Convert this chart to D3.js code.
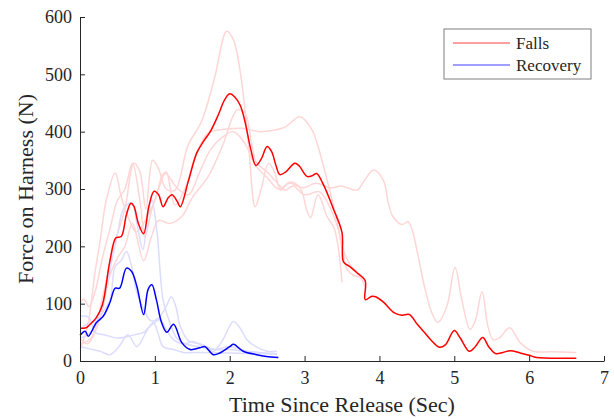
<!DOCTYPE html>
<html>
<head>
<meta charset="utf-8">
<script src="https://cdn.jsdelivr.net/npm/d3@7"></script>
<style>
  body { margin: 0; background: #fff; }
  svg text { font-family: "Liberation Serif", "Times New Roman", serif; fill: #262626; }
</style>
</head>
<body>
<svg id="chart" width="614" height="419"></svg>
<script>
// tick labels
var xTicks = [0, 1, 2, 3, 4, 5, 6, 7]
var yTicks = [0, 100, 200, 300, 400, 500, 600]

// legend
var keys = ["Falls", "Recovery"]

// mean curves, [time (s), force (N)]
var fallsMean = [[0,57],[0.08,58],[0.12,62],[0.22,76],[0.3,98],[0.4,175],[0.48,215],[0.55,217],[0.62,255],[0.68,275],[0.72,270],[0.78,240],[0.85,222],[0.92,270],[0.99,296],[1.05,290],[1.11,269],[1.18,285],[1.23,290],[1.3,278],[1.34,269],[1.45,315],[1.56,363],[1.65,383],[1.74,400],[1.85,430],[1.93,455],[2.0,466],[2.07,460],[2.14,446],[2.2,420],[2.28,370],[2.35,341],[2.42,352],[2.5,374],[2.56,365],[2.62,340],[2.67,325],[2.75,330],[2.87,345],[2.93,340],[3.03,322],[3.1,323],[3.16,327],[3.25,308],[3.38,267],[3.5,224],[3.52,173],[3.6,165],[3.7,154],[3.81,140],[3.81,107],[3.9,113],[3.95,112],[4.05,103],[4.2,84],[4.3,80],[4.4,81],[4.5,65],[4.6,50],[4.7,35],[4.8,24],[4.88,28],[5.0,53],[5.08,40],[5.2,17],[5.28,25],[5.38,41],[5.46,25],[5.55,13],[5.65,15],[5.75,18],[5.88,14],[6.0,10],[6.1,6],[6.63,5]]

var recoveryMean = [[0,45],[0.07,52],[0.11,43],[0.22,67],[0.31,78],[0.4,102],[0.47,127],[0.53,127],[0.62,162],[0.69,156],[0.76,130],[0.85,81],[0.91,125],[0.96,133],[1.02,107],[1.09,67],[1.16,50],[1.25,64],[1.36,32],[1.47,20],[1.6,23],[1.67,25],[1.78,11],[1.87,14],[2.0,25],[2.05,29],[2.18,17],[2.36,11],[2.49,8],[2.65,6]]

// individual fall trials
var fallTrial1 = [[0,30],[0.15,40],[0.3,110],[0.45,200],[0.6,265],[0.72,345],[0.8,330],[0.88,265],[0.97,350],[1.05,335],[1.15,300],[1.27,298],[1.44,375],[1.63,420],[1.8,495],[1.96,575],[2.05,560],[2.14,505],[2.25,380],[2.34,269],[2.42,300],[2.52,345],[2.6,330],[2.68,298],[2.8,312],[2.94,302],[3.03,263],[3.08,250],[3.18,290],[3.3,252],[3.4,230],[3.5,137]]
var fallTrial2 = [[0,100],[0.05,108],[0.12,95],[0.2,120],[0.3,180],[0.4,230],[0.5,280],[0.6,300],[0.7,345],[0.8,280],[0.87,217],[0.95,260],[1.05,300],[1.15,330],[1.27,272],[1.4,300],[1.55,360],[1.71,398],[1.84,403],[2.0,405],[2.16,406],[2.4,400],[2.6,403],[2.74,408],[2.94,426],[3.1,403],[3.18,374],[3.3,316],[3.41,258],[3.5,200],[3.57,159],[3.65,150],[3.75,145],[3.8,130]]
var fallTrial3 = [[0,40],[0.1,30],[0.2,50],[0.3,90],[0.4,150],[0.5,180],[0.6,200],[0.7,240],[0.85,175],[0.95,215],[1.05,245],[1.2,240],[1.36,252],[1.5,285],[1.71,321],[1.9,374],[2.1,438],[2.2,433],[2.3,374],[2.36,345],[2.5,330],[2.6,316],[2.74,298],[2.85,305],[3.0,290],[3.2,295],[3.35,265],[3.45,230],[3.5,200],[3.6,170],[3.7,155]]
var fallTrial4 = [[0,20],[0.1,60],[0.2,154],[0.27,211],[0.35,280],[0.47,328],[0.55,287],[0.64,252],[0.75,225],[0.85,240],[1.0,280],[1.13,328],[1.31,300],[1.45,290],[1.6,330],[1.75,370],[1.9,390],[2.05,400],[2.2,380],[2.35,340],[2.5,320],[2.65,300],[2.8,310],[2.98,302],[3.15,310],[3.34,302],[3.5,305],[3.7,298],[3.8,315],[3.92,333],[4.05,316],[4.12,275],[4.18,252],[4.3,238],[4.38,243],[4.43,232],[4.5,194],[4.61,125],[4.7,84],[4.78,67],[4.9,95],[5.01,163],[5.1,107],[5.21,55],[5.28,70],[5.37,121],[5.45,60],[5.52,37],[5.61,41],[5.74,58],[5.88,32],[6.05,17],[6.3,16],[6.63,15]]

// individual recovery trials
var recTrial1 = [[0,55],[0.1,65],[0.2,70],[0.3,100],[0.4,160],[0.5,220],[0.58,265],[0.69,276],[0.76,240],[0.84,194],[0.9,250],[0.96,281],[1.03,223],[1.11,107],[1.2,67],[1.29,40],[1.4,30],[1.6,25],[1.8,20],[2.0,25],[2.2,18],[2.4,15],[2.63,12]]
var recTrial2 = [[0,40],[0.1,45],[0.2,60],[0.27,78],[0.4,107],[0.47,165],[0.55,175],[0.62,191],[0.68,170],[0.76,119],[0.85,90],[0.95,70],[1.05,75],[1.15,95],[1.22,112],[1.28,95],[1.34,60],[1.45,35],[1.6,30],[1.8,20],[2.0,20],[2.3,15],[2.63,12]]
var recTrial3 = [[0,25],[0.1,22],[0.27,17],[0.4,11],[0.52,25],[0.64,46],[0.76,25],[0.88,50],[0.98,67],[1.05,45],[1.11,25],[1.25,20],[1.38,15],[1.6,15],[2.0,14],[2.3,13],[2.6,13]]
var recTrial4 = [[0,78],[0.12,76],[0.2,50],[0.35,45],[0.5,40],[0.7,45],[0.85,50],[0.93,60],[1.07,72],[1.15,55],[1.25,37],[1.4,30],[1.51,34],[1.65,25],[1.78,17],[1.9,35],[2.05,69],[2.15,55],[2.23,37],[2.35,25],[2.5,17],[2.63,17]]

var fallTrials = [fallTrial1, fallTrial2, fallTrial3, fallTrial4]
var recTrials = [recTrial1, recTrial2, recTrial3, recTrial4]

var svg = d3.select("#chart")
var plotLeft = 80, plotRight = 604, plotTop = 17, plotBottom = 361

var x = d3.scaleLinear().domain([0, 7]).range([plotLeft, plotRight])
var y = d3.scaleLinear().domain([0, 600]).range([plotBottom, plotTop])

var line = d3.line()
  .x(function(d) { return x(d[0]) })
  .y(function(d) { return y(d[1]) })
  .curve(d3.curveCatmullRom.alpha(0.5))

// faint trials first, then the means on top
svg.selectAll(".fallTrial")
  .data(fallTrials)
  .enter()
  .append("path")
  .attr("class", "fallTrial")
  .attr("d", line)
  .attr("fill", "none")
  .attr("stroke", "#ffd6d6")
  .attr("stroke-width", 1.5)

svg.selectAll(".recTrial")
  .data(recTrials)
  .enter()
  .append("path")
  .attr("class", "recTrial")
  .attr("d", line)
  .attr("fill", "none")
  .attr("stroke", "#dcdcff")
  .attr("stroke-width", 1.5)

svg.append("path")
  .datum(fallsMean)
  .attr("d", line)
  .attr("fill", "none")
  .attr("stroke", "#ff0000")
  .attr("stroke-width", 1.5)

svg.append("path")
  .datum(recoveryMean)
  .attr("d", line)
  .attr("fill", "none")
  .attr("stroke", "#0000ff")
  .attr("stroke-width", 1.5)

// axes, ticks pointing inward
svg.append("g")
  .attr("transform", "translate(0," + plotBottom + ")")
  .call(d3.axisBottom(x).tickValues(xTicks).tickFormat(d3.format("d")).tickSizeInner(-5).tickSizeOuter(0).tickPadding(10))
svg.append("g")
  .attr("transform", "translate(" + plotLeft + ",0)")
  .call(d3.axisLeft(y).tickValues(yTicks).tickFormat(d3.format("d")).tickSizeInner(-5).tickSizeOuter(0).tickPadding(8))

svg.selectAll(".domain, .tick line").attr("stroke", "#262626").attr("stroke-width", 1)
svg.selectAll(".tick text").attr("font-size", "18px").attr("font-family", "Liberation Serif").attr("fill", "#262626")

svg.append("text")
  .attr("x", (plotLeft + plotRight) / 2)
  .attr("y", 412)
  .attr("text-anchor", "middle")
  .attr("font-size", "22px")
  .text("Time Since Release (Sec)")

svg.append("text")
  .attr("transform", "translate(33," + ((plotTop + plotBottom) / 2) + ") rotate(-90)")
  .attr("text-anchor", "middle")
  .attr("font-size", "22px")
  .text("Force on Harness (N)")

// legend
var legendBox = svg.append("g").attr("transform", "translate(444,29)")
legendBox.append("rect")
  .attr("width", 147)
  .attr("height", 50)
  .attr("fill", "#fff")
  .attr("stroke", "#7f7f7f")
  .attr("stroke-width", 1)

var legColor = d3.scaleOrdinal().domain(keys).range(["#ff0000", "#0000ff"])
var legend = legendBox.selectAll(".legend")
  .data(keys)
  .enter()
  .append("g")
  .attr("class", "legend")
  .attr("transform", function(d, i) { return "translate(0," + (14 + i * 22) + ")" })

legend.append("line")
  .attr("x1", 9).attr("x2", 66)
  .attr("stroke", function(d) { return legColor(d) })
  .attr("stroke-opacity", 0.75)
  .attr("stroke-width", 1.2)

legend.append("text")
  .attr("x", 72)
  .attr("y", 6)
  .attr("font-size", "17px")
  .text(function(d) { return d })
</script>
</body>
</html>
